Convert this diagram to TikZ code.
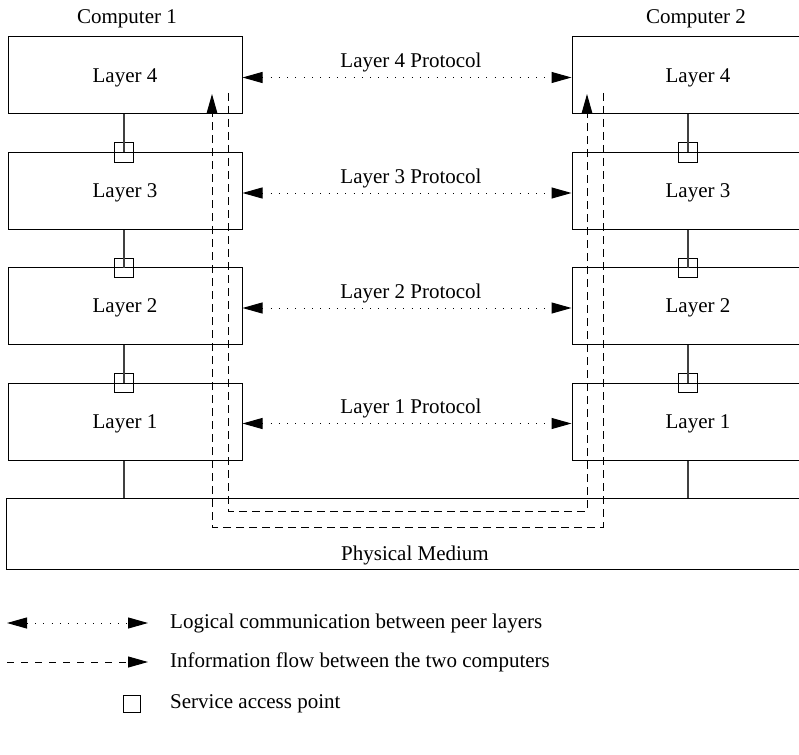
\documentclass[tikz,border=0pt]{standalone}
\usepackage{fontspec}
\setmainfont{Liberation Serif}
\usetikzlibrary{arrows.meta}
\begin{document}
\begin{tikzpicture}[x=1pt,y=-1pt,
  font=\fontsize{21}{25}\selectfont,
  layerbox/.style={draw, line width=1pt, rectangle, inner sep=0pt,
    minimum height=77pt, text depth=0pt},
  leftbox/.style={layerbox, minimum width=234pt},
  rightbox/.style={layerbox, minimum width=252pt},
  sap/.style={draw, line width=1pt, rectangle, inner sep=0pt, minimum size=19pt},
  link/.style={line width=1.1pt, draw=black!75},
  peer/.style={line width=1pt, dash pattern=on 1pt off 7.3pt, {Triangle[length=20pt,width=11pt]}-{Triangle[length=20pt,width=11pt]}},
  flow/.style={line width=1pt, dash pattern=on 8pt off 5pt},
  plabel/.style={anchor=base, yshift=10pt, xshift=4pt},
  heading/.style={text depth=0pt},
  legendtext/.style={anchor=west, inner sep=0pt}
]
\useasboundingbox (0,0) rectangle (799,754);
\clip (0,0) rectangle (799,754);

% computer headings
\node[heading] (comp1) at (127,17) {Computer 1};
\node[heading] (comp2) at (696,17) {Computer 2};

% protocol stacks
\node[leftbox]  (c1l4) at (125,75.5)  {Layer 4};
\node[leftbox]  (c1l3) at (125,191)   {Layer 3};
\node[leftbox]  (c1l2) at (125,306)   {Layer 2};
\node[leftbox]  (c1l1) at (125,421.5) {Layer 1};

\node[rightbox] (c2l4) at (698,75.5)  {Layer 4};
\node[rightbox] (c2l3) at (698,191)   {Layer 3};
\node[rightbox] (c2l2) at (698,306)   {Layer 2};
\node[rightbox] (c2l1) at (698,421.5) {Layer 1};

% shared medium
\node[draw, line width=1pt, rectangle, minimum width=818pt, minimum height=71pt,
  inner sep=0pt, anchor=north west] (phys) at (6,498) {};
\node[heading] (physlabel) at (415,553) {Physical Medium};

% service access points between adjacent layers
\node[sap] (s13) at (124,152.5) {};
\node[sap] (s12) at (124,268)   {};
\node[sap] (s11) at (124,383)   {};
\node[sap] (s23) at (688,152.5) {};
\node[sap] (s22) at (688,268)   {};
\node[sap] (s21) at (688,383)   {};

\draw[link] (s13 |- c1l4.south) -- (s13.center);
\draw[link] (s12 |- c1l3.south) -- (s12.center);
\draw[link] (s11 |- c1l2.south) -- (s11.center);
\draw[link] (s11 |- c1l1.south) -- (s11 |- phys.north);
\draw[link] (s23 |- c2l4.south) -- (s23.center);
\draw[link] (s22 |- c2l3.south) -- (s22.center);
\draw[link] (s21 |- c2l2.south) -- (s21.center);
\draw[link] (s21 |- c2l1.south) -- (s21 |- phys.north);

% peer-to-peer protocols
\draw[peer] ([yshift=-2pt]c1l4.east) -- node[plabel] {Layer 4 Protocol} ([yshift=-2pt]c2l4.west);
\draw[peer] ([yshift=-2pt]c1l3.east) -- node[plabel] {Layer 3 Protocol} ([yshift=-2pt]c2l3.west);
\draw[peer] ([yshift=-2pt]c1l2.east) -- node[plabel] {Layer 2 Protocol} ([yshift=-2pt]c2l2.west);
\draw[peer] ([yshift=-2pt]c1l1.east) -- node[plabel] {Layer 1 Protocol} ([yshift=-2pt]c2l1.west);

% actual data flow through the stacks
\coordinate (outA) at (228,93);
\coordinate (inA)  at (587,94);
\coordinate (outB) at (603,93);
\coordinate (inB)  at (212,94);
\draw[flow, -{Triangle[length=20pt,width=11pt]}]
  (outA) -- (228,511) -- (587,511) -- (inA);
\draw[flow, -{Triangle[length=20pt,width=11pt]}]
  (outB) -- (603,527) -- (212,527) -- (inB);

% legend
\coordinate (lg1a) at (7,623);
\coordinate (lg1b) at (148,623);
\coordinate (lg2a) at (7,662);
\coordinate (lg2b) at (148,662);
\draw[peer] (lg1a) -- (lg1b);
\node[legendtext] (lt1) at (170,623) {Logical communication between peer layers};
\draw[flow, dash pattern=on 7pt off 7pt, -{Triangle[length=20pt,width=11pt]}] (lg2a) -- (lg2b);
\node[legendtext] (lt2) at (170,662) {Information flow between the two computers};
\node[sap, minimum size=17pt] (lgsap) at (131.5,704) {};
\node[legendtext] (lt3) at (170,704) {Service access point};
\end{tikzpicture}
\end{document}
